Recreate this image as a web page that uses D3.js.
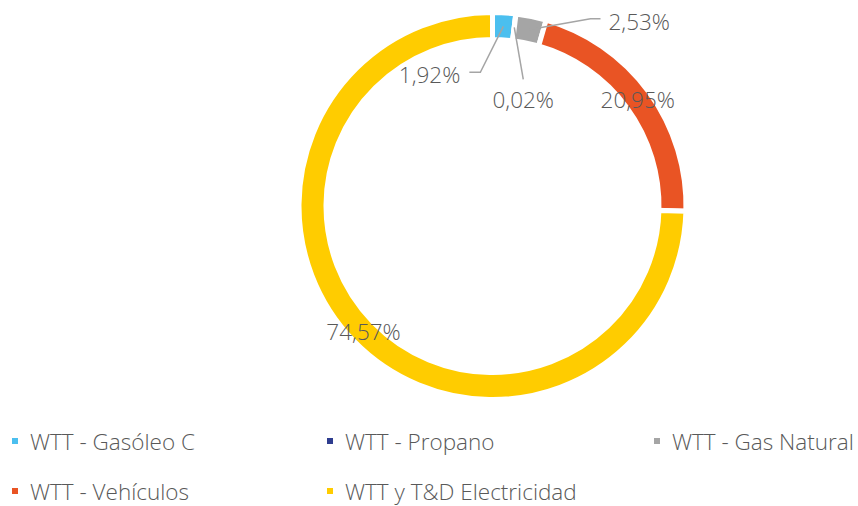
<!DOCTYPE html>
<html lang="es">
<head>
  <meta charset="UTF-8">
  <title>WTT donut</title>
  <script src="https://d3js.org/d3.v7.min.js"></script>
  <style>
    body { margin: 0; background: #fff; }
    svg text { font-family: "Open Sans", sans-serif; font-weight: 300; fill: #595959; }
  </style>
</head>
<body>
  <svg id="chart" width="858" height="506"></svg>
  <script>
    // data
    const categories = ["WTT - Gasóleo C", "WTT - Propano", "WTT - Gas Natural", "WTT - Vehículos", "WTT y T&D Electricidad"];
    const values = [1.92, 0.02, 2.53, 20.95, 74.57];
    const labels = ["1,92%", "0,02%", "2,53%", "20,95%", "74,57%"];
    const colors = ["#4bbfef", "#2e3d8f", "#a5a5a5", "#e95424", "#ffcc00"];

    const svg = d3.select("#chart");
    const cx = 492.5, cy = 206;
    const outerR = 193.5, innerR = 166.5;
    const fs = 22.5;

    const pie = d3.pie().sort(null).value(d => d.v);
    const arcs = pie(values.map((v, i) => ({ v, i })));
    const arc = d3.arc().innerRadius(innerR).outerRadius(outerR);
    const labelArc = d3.arc().innerRadius(180).outerRadius(180);

    const g = svg.append("g").attr("transform", `translate(${cx},${cy})`);

    g.selectAll("path.slice")
      .data(arcs)
      .join("path")
      .attr("class", "slice")
      .attr("d", arc)
      .attr("fill", d => colors[d.data.i])
      .attr("stroke", "#fff")
      .attr("stroke-width", 5);

    // small slices get moved labels with leader lines (offsets from centroid)
    const moved = {
      0: { pts: [[-23, 46], [-34, 46]], tx: -43, ty: 57, anchor: "end" },
      1: { pts: [[9, 52]], tx: 9, ty: 81, anchor: "middle" },
      2: { pts: [[62, -11], [72, -11]], tx: 80, ty: 0, anchor: "start" }
    };

    arcs.forEach(d => {
      const i = d.data.i;
      const [x, y] = labelArc.centroid(d);
      const m = moved[i];
      if (m) {
        const line = [[x, y]].concat(m.pts.map(p => [x + p[0], y + p[1]]));
        g.append("path")
          .attr("d", d3.line()(line))
          .attr("fill", "none")
          .attr("stroke", "#a5a5a5")
          .attr("stroke-width", 1.5);
        g.append("text")
          .attr("x", x + m.tx)
          .attr("y", y + m.ty)
          .attr("text-anchor", m.anchor)
          .attr("font-size", fs)
          .text(labels[i]);
      } else {
        g.append("text")
          .attr("x", x)
          .attr("y", y + 8)
          .attr("text-anchor", "middle")
          .attr("font-size", fs)
          .text(labels[i]);
      }
    });

    // legend
    const legendPos = [[12, 443], [327, 443], [654, 443], [12, 493], [327, 493]];
    const lg = svg.append("g");
    categories.forEach((c, i) => {
      const [lx, ly] = legendPos[i];
      lg.append("rect")
        .attr("x", lx).attr("y", ly - 5)
        .attr("width", 6).attr("height", 6)
        .attr("fill", colors[i]);
      lg.append("text")
        .attr("x", lx + 18).attr("y", ly + 7)
        .attr("font-size", fs)
        .text(c);
    });
  </script>
</body>
</html>
